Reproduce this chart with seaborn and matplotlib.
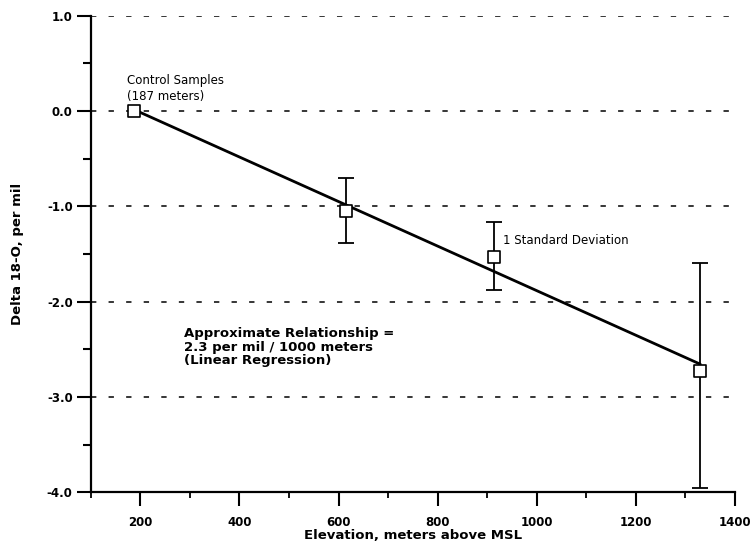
import numpy as np
import pandas as pd
import matplotlib
matplotlib.use("Agg")
import matplotlib.pyplot as plt
import seaborn as sns
from matplotlib.ticker import MultipleLocator, FixedLocator

# Sample elevations (m above MSL) and mean delta 18-O (per mil)
elevation = [187, 616, 913, 1330]
delta_18o = [0.00, -1.05, -1.53, -2.73]
# spread of one standard deviation below / above each mean
sd_below = [0.00, 0.34, 0.35, 1.23]
sd_above = [0.00, 0.35, 0.37, 1.14]

x_ticks = [200, 400, 600, 800, 1000, 1200, 1400]
x_minor = [100, 300, 500, 700, 900, 1100, 1300]
y_ticks = [1.0, 0.0, -1.0, -2.0, -3.0, -4.0]
y_tick_labels = ["1.0", "0.0", "-1.0", "-2.0", "-3.0", "-4.0"]

df = pd.DataFrame({"elevation": elevation, "delta": delta_18o,
                   "lo": sd_below, "hi": sd_above})

sns.set_style("ticks")
plt.rcParams["font.family"] = ["DejaVu Sans"]
plt.rcParams.update({"text.color": "black", "axes.labelcolor": "black",
                     "xtick.color": "black", "ytick.color": "black"})

fig = plt.figure(figsize=(7.5, 5.45), dpi=100)
ax = fig.add_axes([0.121, 0.097, 0.859, 0.874])

# dashed horizontal reference lines
for yv in y_ticks[:-1]:
    ax.axhline(yv, color="black", lw=1.1, ls=(0, (3.5, 8)), zorder=1)

# regression line through the sample means
sns.regplot(data=df, x="elevation", y="delta", ci=None, scatter=False,
            color="black", line_kws={"lw": 2.0}, ax=ax)

# error bars (1 standard deviation) for the elevated sites
sub = df[(df["lo"] > 0) | (df["hi"] > 0)]
ax.errorbar(sub["elevation"], sub["delta"], yerr=[sub["lo"], sub["hi"]],
            fmt="none", ecolor="black", elinewidth=1.3, capsize=6,
            capthick=1.3, zorder=3)

# open square markers
sns.scatterplot(data=df, x="elevation", y="delta", marker="s", s=75,
                facecolor="white", edgecolor="black", linewidth=1.2,
                zorder=4, ax=ax)

ax.set_xlim(100, 1400)
ax.set_ylim(-4.0, 1.0)
ax.xaxis.set_major_locator(FixedLocator(x_ticks))
ax.xaxis.set_minor_locator(FixedLocator(x_minor))
ax.set_xticklabels([str(v) for v in x_ticks])
ax.yaxis.set_major_locator(FixedLocator(y_ticks))
ax.yaxis.set_minor_locator(MultipleLocator(0.5))
ax.set_yticklabels(y_tick_labels)

for s in ["top", "right"]:
    ax.spines[s].set_visible(False)
for s in ["left", "bottom"]:
    ax.spines[s].set_linewidth(1.6)
    ax.spines[s].set_color("black")

ax.tick_params(axis="y", which="major", direction="out", length=10, width=1.5,
               labelsize=8.5, pad=3, colors="black")
ax.tick_params(axis="y", which="minor", direction="out", length=6, width=1.5,
               colors="black")
ax.tick_params(axis="x", which="major", direction="out", length=10, width=1.5,
               labelsize=8.5, pad=7, colors="black")
ax.tick_params(axis="x", which="minor", direction="out", length=4, width=1.3,
               colors="black")
for lab in ax.get_xticklabels() + ax.get_yticklabels():
    lab.set_fontweight("bold")

ax.set_xlabel("Elevation, meters above MSL", fontsize=9.5, fontweight="bold",
              labelpad=0, color="black")
ax.set_ylabel("Delta 18-O, per mil", fontsize=9.5, fontweight="bold",
              color="black")
ax.yaxis.set_label_coords(-0.103, 0.5)

ax.text(174, 0.08, "Control Samples\n(187 meters)", fontsize=8.5, va="bottom",
        ha="left", linespacing=1.3, color="black")
ax.text(932, -1.36, "1 Standard Deviation", fontsize=8.5, va="center",
        ha="left", color="black")
ax.text(288, -2.27, "Approximate Relationship =\n2.3 per mil / 1000 meters\n(Linear Regression)",
        fontsize=9.5, fontweight="bold", va="top", ha="left", linespacing=1.05,
        color="black")

fig.savefig("out.png", dpi=100)
